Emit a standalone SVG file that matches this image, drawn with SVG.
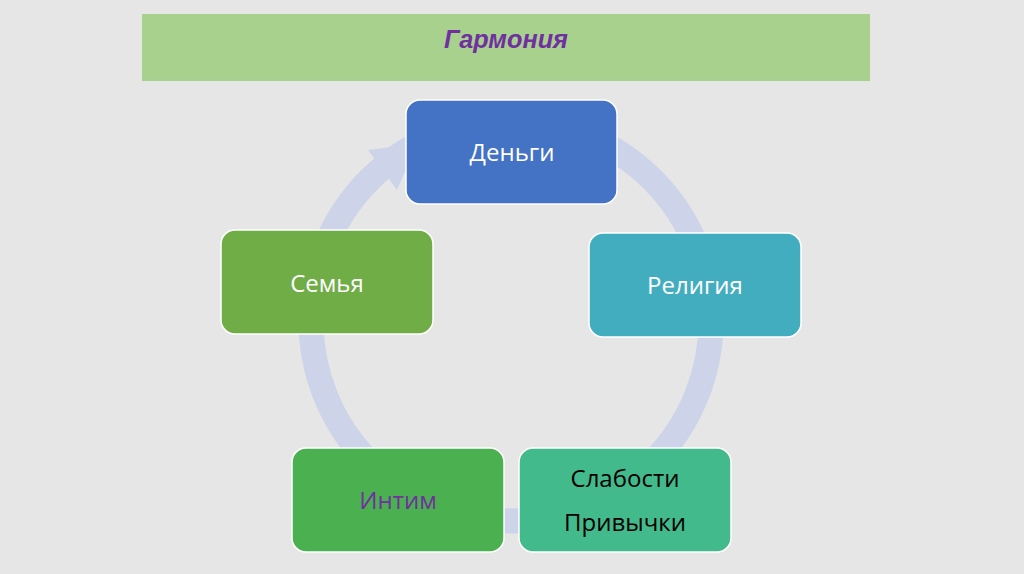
<svg xmlns="http://www.w3.org/2000/svg" width="1024" height="574" viewBox="0 0 1024 574">
<style>
.box{stroke:#ffffff;stroke-width:1.5}
.lbl{font-family:"Open Sans","Noto Sans","DejaVu Sans",sans-serif;font-size:24px;text-anchor:middle}
</style>
<rect x="0" y="0" width="1024" height="574" fill="#e6e6e6"/>
<g id="header">
<rect x="142" y="14" width="728" height="67" fill="#a9d18e"/>
<text x="506" y="48" font-family="'Liberation Sans',Arial,sans-serif" font-size="26" font-weight="bold" font-style="italic" fill="#7030a0" text-anchor="middle" textLength="124" lengthAdjust="spacingAndGlyphs">Гармония</text>
</g>
<g id="connectors">
<circle cx="511" cy="321" r="200" fill="none" stroke="#cdd4ea" stroke-width="25"/>
<polygon points="368,150 417,144 397,190" fill="#cdd4ea"/>
</g>
<g id="node-dengi">
<rect class="box" x="406" y="100" width="211" height="104" rx="14" fill="#4472c4"/>
<text class="lbl" x="512" y="161" fill="#ffffff">Деньги</text>
</g>
<g id="node-religiya">
<rect class="box" x="589" y="233" width="212" height="104" rx="14" fill="#43adc0"/>
<text class="lbl" x="695" y="294" fill="#ffffff">Религия</text>
</g>
<g id="node-slabosti">
<rect class="box" x="519" y="448" width="212" height="104" rx="14" fill="#43ba8c"/>
<text class="lbl" x="625" y="487" fill="#000000">Слабости</text>
<text class="lbl" x="625" y="531" fill="#000000">Привычки</text>
</g>
<g id="node-intim">
<rect class="box" x="292" y="448" width="212" height="104" rx="14" fill="#4bb04f"/>
<text class="lbl" x="398" y="509" fill="#7030a0">Интим</text>
</g>
<g id="node-semya">
<rect class="box" x="221" y="230" width="212" height="104" rx="14" fill="#70ad47"/>
<text class="lbl" x="327" y="292" fill="#ffffff">Семья</text>
</g>
</svg>
